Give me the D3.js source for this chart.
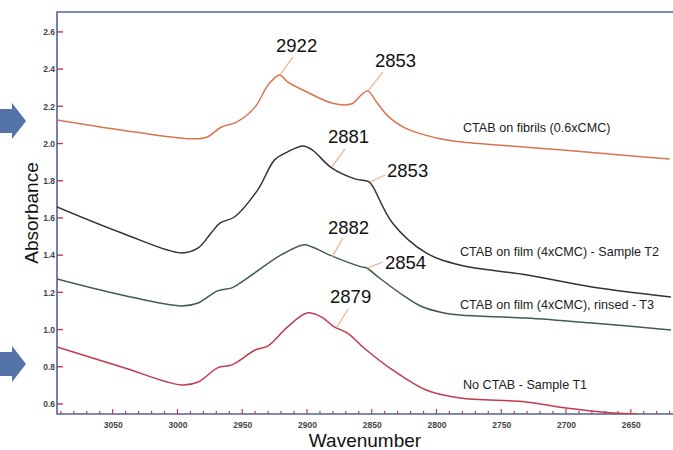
<!DOCTYPE html>
<html><head><meta charset="utf-8">
<script src="https://cdn.jsdelivr.net/npm/d3@7"></script>
<style>
html,body{margin:0;padding:0;background:#fff;}
svg{display:block;font-family:"Liberation Sans",Arial,sans-serif;}
</style></head>
<body>
<svg id="chart" width="673" height="450"></svg>
<script>
// ---- data (wavenumber, absorbance) ----
const fibrilsWn  = [3093,3033,2987,2977,2966,2954,2940,2930,2921,2915,2900,2881,2866,2858,2853,2846,2836,2821,2800,2782,2740,2705,2660,2620];
const fibrilsAbs = [2.127,2.062,2.025,2.035,2.089,2.116,2.197,2.315,2.369,2.331,2.277,2.218,2.212,2.262,2.283,2.22,2.138,2.073,2.03,2.009,1.985,1.966,1.94,1.917];

const filmT2Wn  = [3093,3043,2997,2984,2974,2967,2956,2938,2925,2915,2903,2896,2881,2863,2852,2849,2834,2808,2782,2731,2680,2619];
const filmT2Abs = [1.659,1.519,1.412,1.439,1.519,1.573,1.605,1.751,1.912,1.955,1.987,1.966,1.869,1.810,1.794,1.767,1.573,1.412,1.347,1.294,1.229,1.175];

const rinsedT3Wn  = [3093,3043,2997,2984,2969,2958,2946,2920,2903,2896,2881,2858,2854,2844,2826,2812,2796,2782,2731,2680,2619];
const rinsedT3Abs = [1.272,1.186,1.127,1.143,1.208,1.224,1.277,1.401,1.455,1.444,1.396,1.337,1.331,1.277,1.185,1.125,1.092,1.078,1.062,1.035,0.998];

const noCtabWn  = [3093,3043,2997,2984,2969,2958,2940,2930,2915,2900,2889,2879,2869,2856,2834,2808,2782,2731,2700,2664,2645];
const noCtabAbs = [0.906,0.799,0.702,0.718,0.794,0.810,0.890,0.912,1.014,1.089,1.068,1.014,0.982,0.901,0.783,0.675,0.632,0.611,0.578,0.552,0.547];

const seriesNames = ["CTAB on fibrils (0.6xCMC)","CTAB on film (4xCMC) - Sample T2","CTAB on film (4xCMC), rinsed - T3","No CTAB - Sample T1"];

const xTicks = [3050,3000,2950,2900,2850,2800,2750,2700,2650];
const yTicks = [0.6,0.8,1.0,1.2,1.4,1.6,1.8,2.0,2.2,2.4,2.6];

const peakLabels = ["2922","2853","2881","2853","2882","2854","2879"];
const peakWn     = [2920.8,2852.9,2880.7,2851.3,2880.7,2853.7,2876.8];
const peakAbs    = [2.369,2.283,1.874,1.793,1.390,1.331,1.014];

// ---- layout ----
const svg = d3.select("#chart");
const L = 57, T = 12, B = 414, R = 680;
const x = d3.scaleLinear().domain([3093, 2612]).range([L, R]);
const y = d3.scaleLinear().domain([0.546, 2.707]).range([B, T]);

// arrows
const arrowColor = "#5473a8";
[121, 364].forEach(cy => {
  svg.append("path")
    .attr("d", `M0,${cy-12} L12,${cy-12} L12,${cy-18} L26,${cy} L12,${cy+18} L12,${cy+12} L0,${cy+12} Z`)
    .attr("fill", arrowColor);
});

svg.append("defs").append("clipPath").attr("id","clip")
  .append("rect").attr("x", L).attr("y", T).attr("width", R - L).attr("height", B - T);

// ticks
const tickColor = "#c0385a";
const xMinor = d3.range(3090, 2615, -10);
svg.append("g").selectAll("line").data(xMinor).join("line")
  .attr("x1", d => x(d)).attr("x2", d => x(d))
  .attr("y1", B).attr("y2", d => (d % 50 === 0) ? B - 5 : B - 3)
  .attr("stroke", tickColor).attr("stroke-width", 1.2);
svg.append("g").selectAll("line").data(yTicks).join("line")
  .attr("x1", L).attr("x2", L + 6)
  .attr("y1", d => y(d)).attr("y2", d => y(d))
  .attr("stroke", tickColor).attr("stroke-width", 1.4);

// axes via d3 (labels only)
const xAxis = svg.append("g").attr("transform", `translate(0,${B})`)
  .call(d3.axisBottom(x).tickValues(xTicks).tickSize(0).tickPadding(8).tickFormat(d3.format("d")));
const yAxis = svg.append("g").attr("transform", `translate(${L},0)`)
  .call(d3.axisLeft(y).tickValues(yTicks).tickSize(0).tickPadding(2).tickFormat(d3.format(".1f")));
[xAxis, yAxis].forEach(g => {
  g.select(".domain").remove();
  g.selectAll("text").attr("font-size", 8.5).attr("font-weight", "bold").attr("fill", "#444")
    .attr("font-family", "'Liberation Sans',Arial,sans-serif");
});

// frame
const frameColor = "#55609a";
svg.append("path").attr("d", `M${R},${T} L${L},${T} L${L},${B} L${R},${B}`)
  .attr("fill", "none").attr("stroke", frameColor).attr("stroke-width", 1.6);

// curves
const series = [
  {wn: fibrilsWn, ab: fibrilsAbs, color: "#d9744f"},
  {wn: filmT2Wn, ab: filmT2Abs, color: "#333333"},
  {wn: rinsedT3Wn, ab: rinsedT3Abs, color: "#3f5e4a"},
  {wn: noCtabWn, ab: noCtabAbs, color: "#c23a4e"}
];
const line = d3.line().x(d => x(d[0])).y(d => y(d[1])).curve(d3.curveCatmullRom.alpha(0.5));
const gc = svg.append("g").attr("clip-path", "url(#clip)");
series.forEach(s => {
  gc.append("path").datum(d3.zip(s.wn, s.ab)).attr("d", line)
    .attr("fill", "none").attr("stroke", s.color).attr("stroke-width", 1.5);
});

// series labels
const nameBaselines = [132, 256, 309, 389];
const nameX = [463, 460, 460, 463];
seriesNames.forEach((n, i) => {
  svg.append("text").attr("x", nameX[i]).attr("y", nameBaselines[i])
    .attr("font-size", 12.6).attr("fill", "#222").text(n);
});

// peak annotations
const lineEnd = [[13,-18],[15,-19],[13,-18],[15,-7],[11,-19],[16,-6],[11,-18]];
const textOff = [[-4,-23],[7,-24],[-4,-24],[17,-5],[-4,-23],[18,1],[-7,-24]];
peakLabels.forEach((t, i) => {
  const px = x(peakWn[i]), py = y(peakAbs[i]);
  svg.append("line").attr("x1", px).attr("y1", py)
    .attr("x2", px + lineEnd[i][0]).attr("y2", py + lineEnd[i][1])
    .attr("stroke", "#f0ae8c").attr("stroke-width", 1.2);
  svg.append("text").attr("x", px + textOff[i][0]).attr("y", py + textOff[i][1])
    .attr("font-size", 18.5).attr("fill", "#111").text(t);
});

// axis titles
svg.append("text").attr("x", 365).attr("y", 447).attr("text-anchor", "middle")
  .attr("font-size", 19).attr("fill", "#111").text("Wavenumber");
svg.append("text").attr("transform", "translate(38,213) rotate(-90)").attr("text-anchor", "middle")
  .attr("font-size", 19).attr("fill", "#111").text("Absorbance");
</script>
</body></html>
